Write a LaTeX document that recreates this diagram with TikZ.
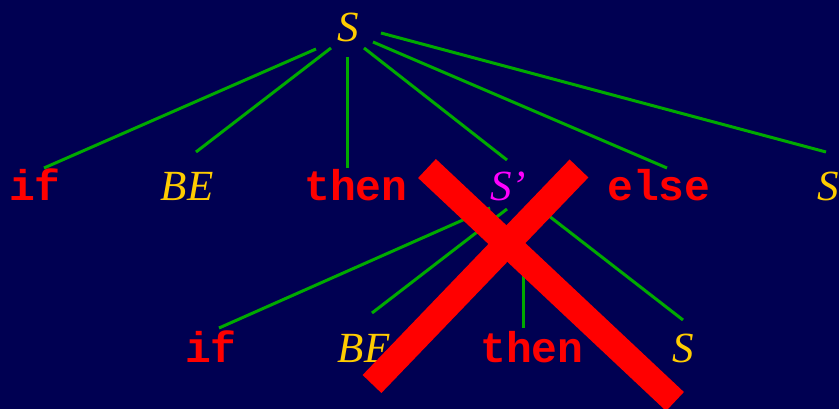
\documentclass[tikz,border=0pt]{standalone}
\usepackage{fontspec}
\setmainfont{Liberation Serif}
\setmonofont{Liberation Mono}
\definecolor{bgnavy}{RGB}{0,0,82}
\definecolor{ntgold}{RGB}{255,204,0}
\definecolor{edgegreen}{RGB}{0,170,0}
\definecolor{kwred}{RGB}{255,0,0}
\definecolor{spmag}{RGB}{255,0,255}
\begin{document}
\begin{tikzpicture}[x=1pt,y=-1pt,
  kw/.style={text=kwred, font=\ttfamily\bfseries\fontsize{43}{43}\selectfont, anchor=base, inner sep=0pt},
  nt/.style={text=ntgold, font=\itshape\fontsize{43}{43}\selectfont, anchor=base, inner sep=0pt},
  sp/.style={nt, text=spmag},
  edge/.style={draw=edgegreen, line width=3pt},
  crossbar/.style={draw=kwred, line width=26pt, line cap=butt}]
\fill[bgnavy] (0,0) rectangle (839,409);
\useasboundingbox (0,0) rectangle (839,409);
% nodes
\node[nt] (top) at (348,42) {S};
\node[kw] (if1) at (35,201) {if};
\node[nt] (be1) at (187,201) {BE};
\node[kw] (then1) at (356,201) {then};
\node[sp] (sp) at (508,201) {S’};
\node[kw] (else1) at (659,201) {else};
\node[nt] (s1) at (828,201) {S};
\node[kw] (if2) at (211,362) {if};
\node[nt] (be2) at (364,362) {BE};
\node[kw] (then2) at (532,362) {then};
\node[nt] (s2) at (683,362) {S};
% edges level 1
\draw[edge] ([shift={(-32,7)}]top.base) -- ([shift={(9,-33)}]if1.base);
\draw[edge] ([shift={(-17,6)}]top.base) -- ([shift={(9,-49)}]be1.base);
\draw[edge] ([shift={(-1,15)}]top.base) -- ([shift={(-9,-33)}]then1.base);
\draw[edge] ([shift={(16,6)}]top.base) -- ([shift={(-1,-41)}]sp.base);
\draw[edge] ([shift={(25,0)}]top.base) -- ([shift={(8,-33)}]else1.base);
\draw[edge] ([shift={(33,-9)}]top.base) -- ([shift={(-2,-49)}]s1.base);
% edges level 2
\draw[edge] ([shift={(-18,7)}]sp.base) -- ([shift={(8,-34)}]if2.base);
\draw[edge] ([shift={(-1,8)}]sp.base) -- ([shift={(8,-49)}]be2.base);
\draw[edge] ([shift={(15,9)}]sp.base) -- ([shift={(-9,-34)}]then2.base);
\draw[edge] ([shift={(32,8)}]sp.base) -- ([shift={(0,-42)}]s2.base);
% cross
\coordinate (xa1) at (427,168.5);
\coordinate (xa2) at (675,401.5);
\coordinate (xb1) at (372,384);
\coordinate (xb2) at (579,168.5);
\draw[crossbar] (xa1) -- (xa2);
\draw[crossbar] (xb1) -- (xb2);
\end{tikzpicture}
\end{document}
